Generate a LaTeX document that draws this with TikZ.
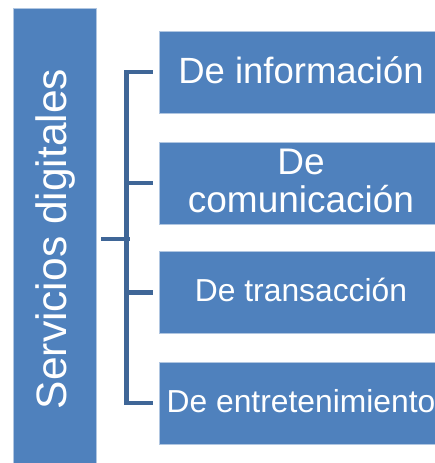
\documentclass[tikz,border=0pt]{standalone}
\usepackage{fontspec}
\setmainfont{Liberation Sans}
\definecolor{boxblue}{HTML}{4F81BD}
\definecolor{linkblue}{HTML}{3F6697}
\begin{document}
\begin{tikzpicture}[x=1pt,y=-1pt,
  panel/.style={rectangle, fill=boxblue, draw=white!55!boxblue, line width=0.6pt, inner sep=0pt, minimum width=284pt, minimum height=82pt},
  lbl/.style={text=white, inner sep=0pt, anchor=base},
  conn/.style={draw=linkblue, line width=4.6pt, line cap=butt, line join=miter}]
\useasboundingbox (0,0) rectangle (435,463);
% main vertical box
\node[rectangle, fill=boxblue, draw=white!55!boxblue, line width=0.6pt, inner sep=0pt,
      minimum width=83pt, minimum height=462pt] (main) at (54.5,239) {};
\node[lbl, rotate=90, font=\fontsize{42.5}{46}\selectfont] (mainlbl) at (66.7,239) {Servicios digitales};
% right boxes
\node[panel] (b1) at (301,72) {};
\node[panel] (b2) at (301,183) {};
\node[panel] (b3) at (301,292.5) {};
\node[panel] (b4) at (301,403) {};
% labels
\node[lbl, font=\fontsize{36.5}{40}\selectfont] (t1) at ([yshift=-11pt]b1.center) {De información};
\node[lbl, font=\fontsize{37}{40}\selectfont] (t2a) at ([yshift=9pt]b2.center) {De};
\node[lbl, font=\fontsize{37}{40}\selectfont] (t2b) at ([yshift=-29pt]b2.center) {comunicación};
\node[lbl, font=\fontsize{31.8}{36}\selectfont] (t3) at ([yshift=-9.2pt]b3.center) {De transacción};
\node[lbl, font=\fontsize{31.8}{36}\selectfont] (t4) at ([yshift=-9.7pt]b4.center) {De entretenimiento};
% connectors
\coordinate (j1) at ([xshift=-32pt]b1.west);
\coordinate (j4) at ([xshift=-32pt]b4.west);
\draw[conn] ([xshift=-6pt]b1.west) -- (j1) -- (j4) -- ([xshift=-6pt]b4.west);
\draw[conn] ([xshift=-6pt]b2.west) -- ([xshift=-32pt]b2.west);
\draw[conn] ([xshift=-6pt]b3.west) -- ([xshift=-32pt]b3.west);
\draw[conn] ([xshift=5pt]main.east) -- ++(28.3pt,0);
\end{tikzpicture}
\end{document}
